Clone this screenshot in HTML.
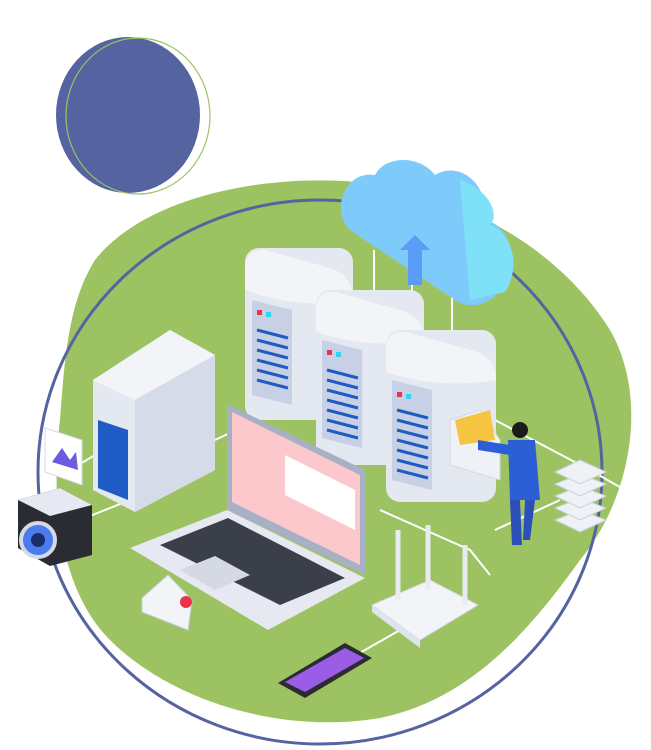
<!DOCTYPE html>
<html><head><style>html,body{margin:0;padding:0;background:#fff;width:651px;height:750px;overflow:hidden}</style></head>
<body>
<svg width="651" height="750" viewBox="0 0 651 750" xmlns="http://www.w3.org/2000/svg">
<!-- blue blob -->
<ellipse cx="128" cy="115" rx="72" ry="78" fill="#5563a1"/>
<ellipse cx="138" cy="116" rx="72" ry="78" fill="none" stroke="#9cc261" stroke-width="1.2"/>
<!-- green blob -->
<path d="M95,260 C150,190 290,170 380,185 C470,200 560,250 610,330 C650,400 630,500 580,560 C530,630 470,700 380,718 C280,735 170,700 110,640 C60,590 50,500 60,420 C65,350 70,300 95,260Z" fill="#9cc261"/>
<!-- ring -->
<ellipse cx="320" cy="472" rx="282" ry="272" fill="none" stroke="#5563a1" stroke-width="3"/>
<!-- white connector lines -->
<g stroke="#fff" stroke-width="2" fill="none">
<path d="M374,250 V300 M412,250 V300 M452,250 V330"/>
<path d="M215,440 L300,400 M380,510 L470,550 L490,575 M495,420 L590,470 L625,490 M560,500 L495,530"/>
<path d="M330,670 L400,630 M80,520 L130,500 M70,470 L95,455"/>
</g>
<!-- cloud -->
<path d="M350,230 C330,210 345,170 375,175 C385,155 420,155 435,175 C460,160 490,185 485,220 C510,225 520,260 500,290 C490,305 470,310 455,300 Z" fill="#7ecbfb"/>
<path d="M460,180 C490,190 500,215 490,225 C515,235 520,270 505,292 L470,300 Z" fill="#7fe1f7"/>
<path d="M400,250 L415,235 L430,250 L422,250 L422,285 L408,285 L408,250Z" fill="#5b9cf6"/>
<!-- servers -->
<g>
<rect x="245" y="248" width="108" height="172" rx="14" fill="#e4e8f1"/>
<path d="M245,270 Q245,248 265,250 L330,268 Q353,275 353,300 L353,300 Q300,310 245,290Z" fill="#f3f4f8"/>
<path d="M252,300 L292,310 L292,405 L252,395Z" fill="#c7d0e4"/>
<g stroke="#1f5bc4" stroke-width="3"><path d="M257,330 L288,338 M257,340 L288,348 M257,350 L288,358 M257,360 L288,368 M257,370 L288,378 M257,380 L288,388"/></g>
<rect x="316" y="290" width="108" height="175" rx="14" fill="#e4e8f1"/>
<path d="M316,310 Q316,290 336,292 L400,310 Q424,316 424,340 Q370,350 316,332Z" fill="#f3f4f8"/>
<path d="M322,340 L362,350 L362,448 L322,438Z" fill="#c7d0e4"/>
<g stroke="#1f5bc4" stroke-width="3"><path d="M327,370 L358,378 M327,380 L358,388 M327,390 L358,398 M327,400 L358,408 M327,410 L358,418 M327,420 L358,428 M327,430 L358,438"/></g>
<rect x="386" y="330" width="110" height="172" rx="14" fill="#e4e8f1"/>
<path d="M386,350 Q386,330 406,332 L470,350 Q496,356 496,380 Q440,390 386,372Z" fill="#f3f4f8"/>
<path d="M392,380 L432,390 L432,490 L392,480Z" fill="#c7d0e4"/>
<g stroke="#1f5bc4" stroke-width="3"><path d="M397,410 L428,418 M397,420 L428,428 M397,430 L428,438 M397,440 L428,448 M397,450 L428,458 M397,460 L428,468 M397,470 L428,478"/></g>
<g fill="#e8344b"><rect x="257" y="310" width="5" height="5"/><rect x="327" y="350" width="5" height="5"/><rect x="397" y="392" width="5" height="5"/></g>
<g fill="#33d4ee"><rect x="266" y="312" width="5" height="5"/><rect x="336" y="352" width="5" height="5"/><rect x="406" y="394" width="5" height="5"/></g>
<path d="M450,420 L480,410 L500,440 L500,480 L450,465Z" fill="#eef1f6" stroke="#d3d9e6"/>
<path d="M455,420 L490,410 L495,440 L460,445Z" fill="#f5c542"/>
</g>
<!-- tower -->
<path d="M93,380 L170,330 L215,355 L215,470 L135,512 L93,490Z" fill="#e4e8f1"/>
<path d="M93,380 L170,330 L215,355 L135,400Z" fill="#f3f4f8"/>
<path d="M135,400 L215,355 L215,470 L135,512Z" fill="#d5dbe8"/>
<path d="M98,420 L128,430 L128,500 L98,488Z" fill="#1f5bc4"/>
<!-- laptop -->
<path d="M227,404 L365,470 L365,575 L227,510Z" fill="#a8b0c6"/>
<path d="M232,412 L360,475 L360,565 L232,502Z" fill="#fcc8cc"/>
<path d="M285,455 L355,490 L355,530 L285,495Z" fill="#fff"/>
<path d="M130,548 L227,510 L365,578 L268,630Z" fill="#e6e9f1"/>
<path d="M160,545 L228,518 L345,578 L280,605Z" fill="#3b3f4a"/>
<path d="M180,570 L215,556 L250,575 L215,590Z" fill="#d5d9e3"/>
<!-- person -->
<circle cx="520" cy="430" r="8" fill="#1b1b1b"/>
<path d="M508,440 L535,440 L540,500 L510,500Z" fill="#2c5fd6"/>
<path d="M478,440 L510,445 L510,455 L478,450Z" fill="#2c5fd6"/>
<path d="M510,500 L520,500 L522,545 L512,545Z M525,500 L535,500 L530,540 L523,540Z" fill="#2c4fb8"/>
<!-- stack -->
<g fill="#eef1f6" stroke="#c9d0de">
<path d="M555,520 L580,510 L606,520 L580,532Z"/><path d="M555,508 L580,498 L606,508 L580,520Z"/><path d="M555,496 L580,486 L606,496 L580,508Z"/><path d="M555,484 L580,474 L606,484 L580,496Z"/><path d="M555,472 L580,460 L606,472 L580,484Z"/>
</g>
<!-- router -->
<path d="M372,605 L430,580 L478,605 L420,640Z" fill="#f3f4f8" stroke="#d3d9e6"/>
<path d="M372,605 L420,640 L420,648 L372,612Z" fill="#dfe3ec"/>
<g stroke="#e8ebf2" stroke-width="5"><path d="M398,530 V600 M428,525 V590 M465,545 V605"/></g>
<!-- phone -->
<path d="M278,683 L345,643 L372,658 L305,698Z" fill="#2b2b33"/>
<path d="M285,682 L345,648 L364,658 L305,692Z" fill="#9b5de5"/>
<!-- envelope -->
<path d="M142,598 L168,575 L192,600 L188,630 L142,612Z" fill="#f3f4f8" stroke="#c9d0de"/>
<circle cx="186" cy="602" r="6" fill="#e8344b"/>
<!-- picture -->
<path d="M45,428 L82,440 L82,485 L45,472Z" fill="#fff" stroke="#d3d9e6"/>
<path d="M52,462 L62,448 L70,460 L76,452 L78,470 L52,462Z" fill="#6b5be0"/>
<!-- camera -->
<path d="M18,500 L60,488 L92,505 L92,555 L50,566 L18,548Z" fill="#2b2b33"/>
<path d="M18,500 L60,488 L92,505 L50,516Z" fill="#e6e9f1"/>
<circle cx="38" cy="540" r="17" fill="#4a7cf0" stroke="#d5d9e3" stroke-width="4"/>
<circle cx="38" cy="540" r="7" fill="#1b2d6b"/>
</svg>
</body></html>
